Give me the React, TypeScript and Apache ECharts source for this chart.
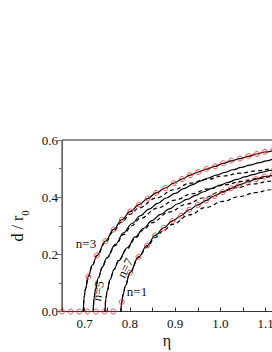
import React, { useEffect, useRef } from "react";
import * as echarts from "echarts";

// ---- data ----
const xTickEta = [0.7, 0.8, 0.9, 1.0, 1.1, 1.2];
const yTickD = [0, 0.2, 0.4, 0.6];

// solid lines (n = 3, 5, 7, 1)
const etaSolid3 = [0.697, 0.699, 0.702, 0.708, 0.717, 0.727, 0.746, 0.764, 0.782, 0.801, 0.82, 0.839, 0.858, 0.878, 0.897, 0.915, 0.933, 0.951, 0.969, 0.988, 1.006, 1.024, 1.043, 1.062, 1.08, 1.098, 1.15, 1.2];
const dSolid3 = [0, 0.052, 0.08, 0.122, 0.162, 0.196, 0.246, 0.287, 0.321, 0.35, 0.374, 0.395, 0.415, 0.432, 0.449, 0.463, 0.477, 0.488, 0.498, 0.508, 0.518, 0.527, 0.535, 0.543, 0.551, 0.558, 0.578, 0.595];

const etaSolid5 = [0.719, 0.721, 0.724, 0.73, 0.739, 0.749, 0.768, 0.786, 0.804, 0.823, 0.842, 0.861, 0.88, 0.9, 0.919, 0.937, 0.955, 0.973, 0.991, 1.01, 1.028, 1.046, 1.065, 1.084, 1.102, 1.12, 1.2];
const dSolid5 = [0, 0.05, 0.077, 0.117, 0.155, 0.188, 0.235, 0.275, 0.307, 0.335, 0.358, 0.378, 0.397, 0.413, 0.43, 0.443, 0.456, 0.467, 0.477, 0.487, 0.496, 0.504, 0.512, 0.52, 0.527, 0.534, 0.561];

const etaSolid7 = [0.745, 0.747, 0.75, 0.756, 0.765, 0.775, 0.794, 0.812, 0.83, 0.849, 0.868, 0.887, 0.906, 0.926, 0.945, 0.963, 0.981, 0.999, 1.017, 1.036, 1.054, 1.072, 1.091, 1.11, 1.2];
const dSolid7 = [0, 0.047, 0.073, 0.111, 0.147, 0.178, 0.223, 0.261, 0.291, 0.318, 0.34, 0.359, 0.377, 0.392, 0.406, 0.419, 0.431, 0.442, 0.452, 0.462, 0.471, 0.479, 0.487, 0.494, 0.52];

const etaSolid1 = [0.78, 0.782, 0.785, 0.79, 0.8, 0.819, 0.838, 0.856, 0.875, 0.894, 0.913, 0.931, 0.95, 0.968, 0.986, 1.005, 1.023, 1.041, 1.06, 1.078, 1.097, 1.15, 1.2];
const dSolid1 = [0, 0.034, 0.06, 0.09, 0.136, 0.191, 0.231, 0.266, 0.293, 0.317, 0.335, 0.356, 0.373, 0.388, 0.404, 0.418, 0.431, 0.443, 0.453, 0.463, 0.472, 0.49, 0.505];

// dashed lines
const etaDash3 = [0.697, 0.699, 0.702, 0.708, 0.717, 0.727, 0.746, 0.764, 0.782, 0.801, 0.82, 0.858, 0.897, 0.933, 0.969, 1.006, 1.043, 1.08, 1.11, 1.2];
const dDash3 = [0, 0.052, 0.08, 0.122, 0.161, 0.195, 0.242, 0.281, 0.313, 0.341, 0.362, 0.397, 0.426, 0.449, 0.462, 0.474, 0.484, 0.492, 0.498, 0.512];

const etaDash5 = [0.719, 0.721, 0.724, 0.73, 0.739, 0.749, 0.768, 0.786, 0.804, 0.823, 0.861, 0.9, 0.937, 0.973, 1.01, 1.046, 1.084, 1.12, 1.2];
const dDash5 = [0, 0.05, 0.077, 0.117, 0.154, 0.187, 0.231, 0.269, 0.3, 0.326, 0.362, 0.39, 0.412, 0.429, 0.443, 0.455, 0.465, 0.473, 0.487];

const etaDash7 = [0.745, 0.747, 0.75, 0.756, 0.765, 0.775, 0.794, 0.812, 0.83, 0.849, 0.887, 0.926, 0.963, 0.999, 1.036, 1.072, 1.11, 1.2];
const dDash7 = [0, 0.047, 0.073, 0.111, 0.147, 0.178, 0.22, 0.257, 0.286, 0.311, 0.348, 0.376, 0.398, 0.418, 0.433, 0.446, 0.456, 0.475];

const etaDash1 = [0.78, 0.782, 0.785, 0.79, 0.8, 0.819, 0.838, 0.856, 0.875, 0.894, 0.931, 0.968, 1.005, 1.041, 1.078, 1.11, 1.2];
const dDash1 = [0, 0.034, 0.06, 0.09, 0.135, 0.189, 0.226, 0.259, 0.284, 0.305, 0.338, 0.364, 0.385, 0.402, 0.416, 0.426, 0.442];

// red open circles (simulation)
const etaCirc3 = [0.708, 0.727, 0.746, 0.764, 0.782, 0.801, 0.82, 0.839, 0.858, 0.878, 0.897, 0.915, 0.933, 0.951, 0.969, 0.988, 1.006, 1.024, 1.043, 1.062, 1.08, 1.098, 1.117];
const dCirc3 = [0.122, 0.196, 0.246, 0.287, 0.321, 0.35, 0.374, 0.395, 0.415, 0.432, 0.449, 0.463, 0.477, 0.488, 0.499, 0.508, 0.519, 0.528, 0.535, 0.544, 0.551, 0.559, 0.566];

const etaCirc1 = [0.65, 0.669, 0.688, 0.706, 0.725, 0.744, 0.763, 0.782, 0.8, 0.819, 0.838, 0.856, 0.875, 0.894, 0.913, 0.931, 0.95, 0.968, 0.986, 1.005, 1.023, 1.041, 1.06, 1.078, 1.097, 1.116];
const dCirc1 = [0, 0, 0, 0, 0, 0, 0, 0.034, 0.136, 0.191, 0.231, 0.266, 0.293, 0.317, 0.335, 0.356, 0.373, 0.388, 0.404, 0.418, 0.431, 0.443, 0.453, 0.463, 0.472, 0.48];

const curveLabels = ["n=3", "n=5", "n=7", "n=1"];

const FONT = "Liberation Serif";

function pairs(xs: number[], ys: number[]) {
  return xs.map((x, i) => [x, ys[i]]);
}

function solid(name: string, xs: number[], ys: number[]) {
  return {
    name,
    type: "line",
    data: pairs(xs, ys),
    showSymbol: false,
    symbol: "none",
    smooth: 0.4,
    smoothMonotone: "x",
    lineStyle: { color: "#000", width: 1.2, type: "solid" },
    z: 3,
  };
}

function dashed(name: string, xs: number[], ys: number[]) {
  return {
    name,
    type: "line",
    data: pairs(xs, ys),
    showSymbol: false,
    symbol: "none",
    smooth: 0.4,
    smoothMonotone: "x",
    lineStyle: { color: "#000", width: 1.2, type: [4, 3] },
    z: 2,
  };
}

function circles(name: string, xs: number[], ys: number[]) {
  return {
    name,
    type: "scatter",
    data: pairs(xs, ys),
    symbol: "circle",
    symbolSize: 5,
    clip: false,
    itemStyle: { color: "rgba(0,0,0,0)", borderColor: "#ff1a1a", borderWidth: 1 },
    z: 5,
  };
}

function label(text: string, x: number, y: number, rotation: number, size: number) {
  return {
    type: "text",
    x,
    y,
    rotation,
    style: {
      text,
      fontFamily: FONT,
      fontSize: size,
      fill: "#111",
      textAlign: "center",
      textVerticalAlign: "middle",
    },
  };
}

export default function App() {
  const ref = useRef<HTMLDivElement>(null);

  useEffect(() => {
    if (!ref.current) return;
    const chart = echarts.init(ref.current, null, { renderer: "svg" });
    const xLabelSet = new Set(xTickEta.map((v) => Math.round(v * 100)));
    const yLabelSet = new Set(yTickD.map((v) => Math.round(v * 100)));

    chart.setOption({
      animation: false,
      backgroundColor: "#fff",
      textStyle: { fontFamily: FONT },
      grid: {
        left: 62,
        right: -39,
        top: 140,
        bottom: 40.5,
        outerBoundsMode: "none",
        containLabel: false,
        show: true,
        borderColor: "#222",
        borderWidth: 1,
        backgroundColor: "transparent",
      },
      xAxis: {
        type: "value",
        min: 0.65,
        max: 1.2,
        interval: 0.05,
        axisLine: { show: true, lineStyle: { color: "#333", width: 1 } },
        axisTick: { show: true, inside: true, length: 4, lineStyle: { color: "#333" } },
        axisLabel: {
          color: "#111",
          fontFamily: FONT,
          fontSize: 13,
          margin: 5,
          formatter: (v: number) => {
            const k = Math.round(v * 100);
            return xLabelSet.has(k) ? (k / 100).toFixed(1) : "";
          },
        },
        splitLine: { show: false },
      },
      yAxis: {
        type: "value",
        min: 0,
        max: 0.6,
        interval: 0.2,
        name: "{a|d / r}{s|0}",
        nameLocation: "middle",
        nameRotate: 90,
        nameGap: 30,
        nameTextStyle: {
          color: "#111",
          fontFamily: FONT,
          rich: {
            a: { fontSize: 16, fontFamily: FONT, color: "#111", lineHeight: 16, verticalAlign: "top" },
            s: { fontSize: 11, fontFamily: FONT, color: "#111", lineHeight: 21, verticalAlign: "bottom" },
          },
        },
        axisLine: { show: true, lineStyle: { color: "#666", width: 1 } },
        axisTick: { show: true, inside: false, length: 5, lineStyle: { color: "#666" } },
        minorTick: { show: true, splitNumber: 2, length: 3, lineStyle: { color: "#666" } },
        axisLabel: {
          color: "#111",
          fontFamily: FONT,
          fontSize: 13,
          margin: 4,
          formatter: (v: number) => {
            const k = Math.round(v * 100);
            return yLabelSet.has(k) ? (k / 100).toFixed(1) : "";
          },
        },
        splitLine: { show: false },
      },
      graphic: [
        label("η", 167, 340, 0, 16),
        label(curveLabels[0], 86, 243, 0, 13),
        label(curveLabels[1], 98, 291, 1.4, 13),
        label(curveLabels[2], 125, 268, 1.1, 13),
        label(curveLabels[3], 137, 291, 0, 13),
      ],
      series: [
        dashed("dash n=3", etaDash3, dDash3),
        dashed("dash n=5", etaDash5, dDash5),
        dashed("dash n=7", etaDash7, dDash7),
        dashed("dash n=1", etaDash1, dDash1),
        solid("n=3", etaSolid3, dSolid3),
        solid("n=5", etaSolid5, dSolid5),
        solid("n=7", etaSolid7, dSolid7),
        solid("n=1", etaSolid1, dSolid1),
        circles("sim n=3", etaCirc3, dCirc3),
        circles("sim n=1", etaCirc1, dCirc1),
      ],
    });
    return () => chart.dispose();
  }, []);

  return <div ref={ref} style={{ position: "fixed", left: 0, top: 0, width: 272, height: 352 }} />;
}
